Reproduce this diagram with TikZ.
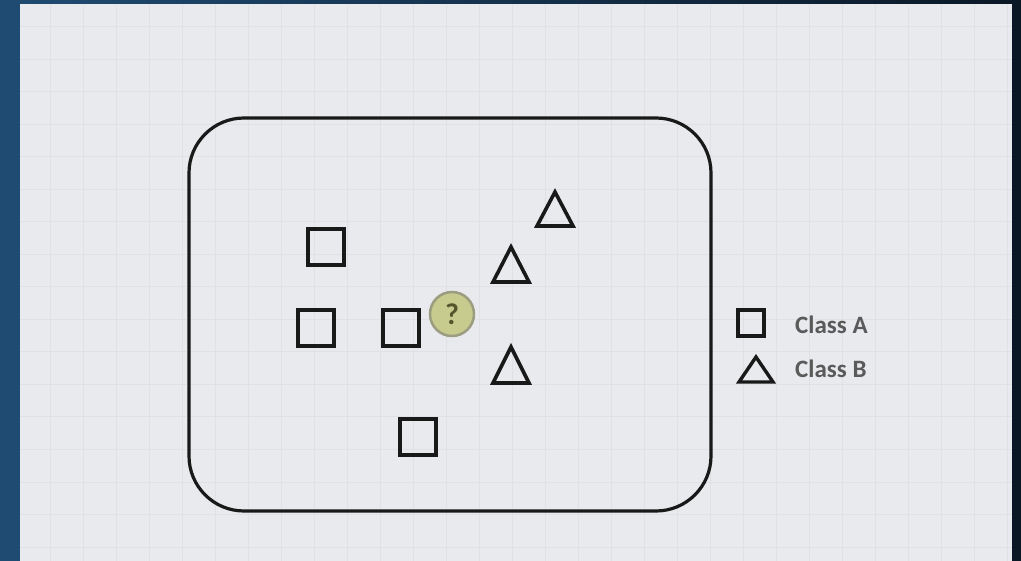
\documentclass[tikz,border=0pt]{standalone}
\usepackage{fontspec}
\setmainfont{Carlito}
\definecolor{bgleft}{HTML}{1F4B72}
\definecolor{bgright}{HTML}{0A1725}
\definecolor{paper}{HTML}{E9EAEE}
\definecolor{gridc}{HTML}{E0E1E5}
\definecolor{qfill}{HTML}{C8CB8E}
\definecolor{qedge}{HTML}{9C9D80}
\definecolor{qtext}{HTML}{55562E}
\definecolor{legtext}{HTML}{5A5A5A}
\tikzset{
  sq/.style={draw=black!90, line width=3.6pt, minimum size=36pt, inner sep=0pt},
  lsq/.style={draw=black!90, line width=3.2pt, minimum size=26pt, inner sep=0pt},
  tri/.style={draw=black!90, line width=3.6pt, line join=miter},
  qmark/.style={circle, fill=qfill, draw=qedge, line width=2.5pt, minimum size=44pt, inner sep=0pt, text=qtext, font=\fontsize{30}{30}\selectfont\bfseries},
  legend/.style={anchor=west, text=legtext, font=\bfseries\fontsize{25}{25}\selectfont, inner sep=0pt},
}
\begin{document}
\begin{tikzpicture}[x=1pt,y=-1pt]
\useasboundingbox (0,0) rectangle (1021,561);
\shade[left color=bgleft, right color=bgright] (0,0) rectangle (1021,561);
\fill[paper] (20,4) rectangle (1012,561);
\begin{scope}
\clip (20,4) rectangle (1012,561);
\foreach \i in {0,...,30} {
  \draw[gridc, line width=1pt] ({17+33*\i},4) -- ({17+33*\i},561);
}
\foreach \j in {0,...,17} {
  \draw[gridc, line width=1pt] (20,{27+32.5*\j}) -- (1012,{27+32.5*\j});
}
\end{scope}
% frame
\draw[black!90, line width=3.2pt, rounded corners=55pt] (189,118) rectangle (711,511);
% class A squares
\node[sq] (a1) at (326,247) {};
\node[sq] (a2) at (316,328) {};
\node[sq] (a3) at (401,328) {};
\node[sq] (a4) at (418,437) {};
% class B triangles
\draw[tri] (555,192) -- (573,226) -- (537,226) -- cycle;
\draw[tri] (511,247) -- (529,282) -- (493,282) -- cycle;
\draw[tri] (511,347) -- (529,383) -- (493,383) -- cycle;
% unknown
\node[qmark] (q) at (452,314) {?};
% legend
\node[lsq] (la) at (751,323) {};
\draw[tri, line width=3.4pt] (756,357) -- (773,382) -- (739,382) -- cycle;
\node[legend] (ta) at (795,325) {Class A};
\node[legend] (tb) at (795,369) {Class B};
\end{tikzpicture}
\end{document}
